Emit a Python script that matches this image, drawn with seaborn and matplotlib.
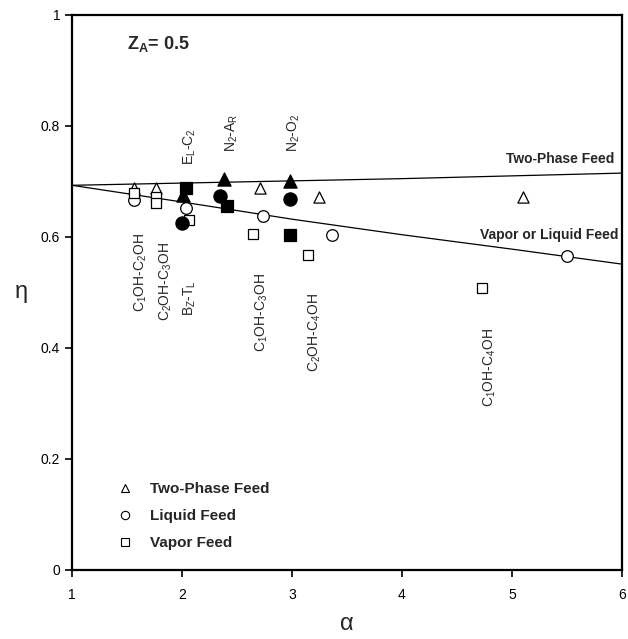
import matplotlib
matplotlib.use("Agg")
import matplotlib.pyplot as plt
import seaborn as sns
import pandas as pd
from matplotlib.lines import Line2D

# ---- data ----
curve_alpha = [1, 2, 3, 4, 5, 6]
two_phase_eta = [0.693, 0.697, 0.701, 0.705, 0.710, 0.715]
vap_liq_eta = [0.693, 0.663, 0.632, 0.604, 0.578, 0.551]

open_tri_x = [1.56, 1.76, 2.71, 3.25, 5.10]
open_tri_y = [0.688, 0.688, 0.689, 0.672, 0.672]
open_circ_x = [1.56, 2.04, 2.74, 3.36, 5.50]
open_circ_y = [0.667, 0.652, 0.638, 0.604, 0.565]
open_sq_x = [1.56, 1.76, 1.76, 2.06, 2.65, 3.15, 4.73]
open_sq_y = [0.679, 0.672, 0.662, 0.631, 0.605, 0.568, 0.508]
fill_tri_x = [2.01, 2.38, 2.98]
fill_tri_y = [0.676, 0.704, 0.700]
fill_circ_x = [2.00, 2.35, 2.98]
fill_circ_y = [0.625, 0.674, 0.668]
fill_sq_x = [2.04, 2.41, 2.98]
fill_sq_y = [0.688, 0.655, 0.604]

upper_labels = [r"E$_\mathrm{L}$-C$_2$", r"N$_2$-A$_\mathrm{R}$", r"N$_2$-O$_2$"]
upper_x = [2.07, 2.45, 3.02]
upper_y = [0.730, 0.753, 0.753]
lower_labels = [r"C$_1$OH-C$_2$OH", r"C$_2$OH-C$_3$OH", r"B$_\mathrm{Z}$-T$_\mathrm{L}$",
                r"C$_1$OH-C$_3$OH", r"C$_2$OH-C$_4$OH", r"C$_1$OH-C$_4$OH"]
lower_x = [1.63, 1.85, 2.07, 2.73, 3.21, 4.80]
lower_y = [0.607, 0.591, 0.523, 0.535, 0.499, 0.436]

legend_labels = ["Two-Phase Feed", "Liquid Feed", "Vapor Feed"]
x_ticks = [1, 2, 3, 4, 5, 6]
y_ticks = [0, 0.2, 0.4, 0.6, 0.8, 1]
y_ticklabels = ["0", "0.2", "0.4", "0.6", "0.8", "1"]

# ---- style ----
sns.set_theme(style="ticks")
plt.rcParams["font.family"] = ["Liberation Sans", "DejaVu Sans"]
plt.rcParams["mathtext.fontset"] = "custom"
plt.rcParams["mathtext.rm"] = "Liberation Sans"
plt.rcParams["mathtext.it"] = "Liberation Sans:italic"
plt.rcParams["mathtext.bf"] = "Liberation Sans:bold"

fig = plt.figure(figsize=(6.28, 6.39), dpi=100)
ax = fig.add_axes([0.1146, 0.108, 0.8758, 0.8687])

curves = pd.DataFrame({"alpha": curve_alpha, "tp": two_phase_eta, "vl": vap_liq_eta})
sns.lineplot(data=curves, x="alpha", y="tp", ax=ax, color="black", lw=0.9)
sns.lineplot(data=curves, x="alpha", y="vl", ax=ax, color="black", lw=0.9)

def scat(xs, ys, marker, filled, size):
    sns.scatterplot(x=xs, y=ys, ax=ax, marker=marker, s=size,
                    facecolor="black" if filled else "white",
                    edgecolor="black", linewidth=0.9, zorder=3)

scat(open_tri_x, open_tri_y, "^", False, 65)
scat(open_circ_x, open_circ_y, "o", False, 70)
scat(open_sq_x, open_sq_y, "s", False, 55)
scat(fill_tri_x, fill_tri_y, "^", True, 90)
scat(fill_circ_x, fill_circ_y, "o", True, 90)
scat(fill_sq_x, fill_sq_y, "s", True, 65)

for lab, x, y in zip(upper_labels, upper_x, upper_y):
    ax.text(x, y, lab, rotation=90, ha="center", va="bottom", fontsize=10)
for lab, x, y in zip(lower_labels, lower_x, lower_y):
    ax.text(x, y, lab, rotation=90, ha="center", va="top", fontsize=10)

ax.text(5.93, 0.740, "Two-Phase Feed", ha="right", va="center", fontsize=10, fontweight="bold")
ax.text(5.97, 0.603, "Vapor or Liquid Feed", ha="right", va="center", fontsize=10, fontweight="bold")
ax.text(1.5, 0.947, r"Z$_\mathbf{A}$= 0.5", ha="left", va="center", fontsize=13, fontweight="bold")

handles = [Line2D([], [], marker=m, ls="none", mfc="white", mec="black", ms=6, mew=0.8)
           for m in ["^", "o", "s"]]
leg = ax.legend(handles, legend_labels, loc="lower left", bbox_to_anchor=(0.044, 0.011),
                frameon=False, handletextpad=0.6, labelspacing=0.85,
                prop={"weight": "bold", "size": 11})

ax.set_xlim(1, 6)
ax.set_ylim(0, 1)
ax.set_xticks(x_ticks)
ax.set_yticks(y_ticks)
ax.set_yticklabels(y_ticklabels)
ax.tick_params(axis="both", direction="out", length=5, width=1.2, labelsize=10,
               colors="black", top=False, right=False)
ax.tick_params(axis="x", pad=8)
for sp in ax.spines.values():
    sp.set_visible(True)
    sp.set_color("black")
    sp.set_linewidth(1.6)
ax.set_xlabel("α", fontsize=17, labelpad=8)
ax.set_ylabel("η", fontsize=17, rotation=0, labelpad=14, va="center")

fig.savefig("out.png", dpi=100)
